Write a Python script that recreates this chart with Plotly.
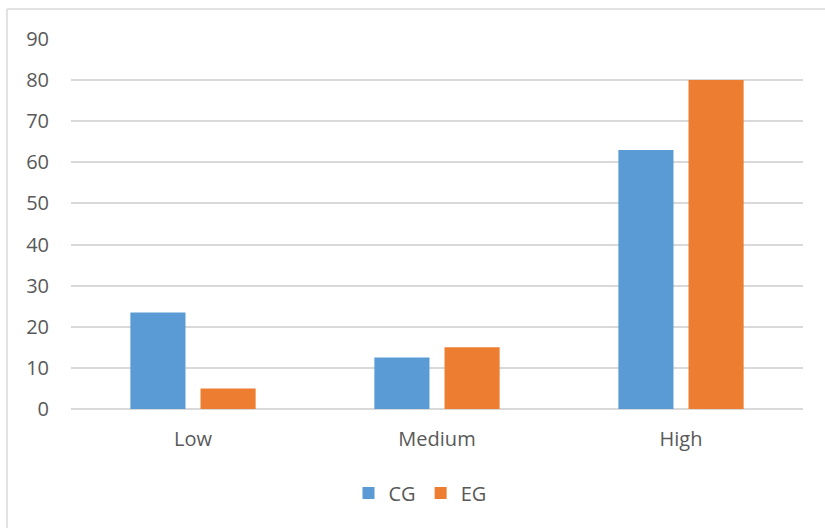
import plotly.graph_objects as go

# Group sizes by level
categories = ["Low", "Medium", "High"]
cg_values = [23.5, 12.5, 63]
eg_values = [5, 15, 80]
y_ticks = [0, 10, 20, 30, 40, 50, 60, 70, 80, 90]

W, H = 825, 528
ML, MR, MT, MB = 71, 22, 39, 119
PW, PH = W - ML - MR, H - MT - MB

TEXT = "#595959"
GRID = "#D9D9D9"
FONT = "Open Sans"
FS = 20

fig = go.Figure()
fig.add_trace(go.Bar(name="CG", x=categories, y=cg_values,
                     marker=dict(color="#5B9BD5", line=dict(width=0))))
fig.add_trace(go.Bar(name="EG", x=categories, y=eg_values,
                     marker=dict(color="#ED7D31", line=dict(width=0))))

# chart frame (left and top edges)
def px_x(v):
    return (v - ML) / PW

def px_y(v):
    return 1 - (v - MT) / PH

frame = dict(color=GRID, width=1.5)
fig.add_shape(type="line", xref="paper", yref="paper",
              x0=px_x(7), x1=px_x(7), y0=px_y(9), y1=px_y(H + 5), line=frame, layer="below")
fig.add_shape(type="line", xref="paper", yref="paper",
              x0=px_x(7), x1=px_x(W + 5), y0=px_y(9), y1=px_y(9), line=frame, layer="below")

fig.update_layout(
    width=W, height=H,
    margin=dict(l=ML, r=MR, t=MT, b=MB),
    paper_bgcolor="white", plot_bgcolor="white",
    barmode="group", bargap=0.425, bargroupgap=0.214,
    font=dict(family=FONT, size=FS, color=TEXT),
    showlegend=True,
    legend=dict(orientation="h", x=px_x(420), xanchor="center",
                y=px_y(493), yanchor="middle",
                font=dict(family=FONT, size=FS, color=TEXT),
                itemwidth=30, traceorder="normal"),
    xaxis=dict(showgrid=False, showline=False, ticks="",
               tickfont=dict(family=FONT, size=FS, color=TEXT),
               ticklabelstandoff=16),
    yaxis=dict(range=[0, 90], tickvals=y_ticks, showgrid=True, gridcolor=GRID,
               gridwidth=1.5, zeroline=True, zerolinecolor=GRID, zerolinewidth=1.5,
               showline=False, ticks="",
               tickfont=dict(family=FONT, size=FS, color=TEXT),
               ticklabelstandoff=21),
)

fig.write_html("out.html")
